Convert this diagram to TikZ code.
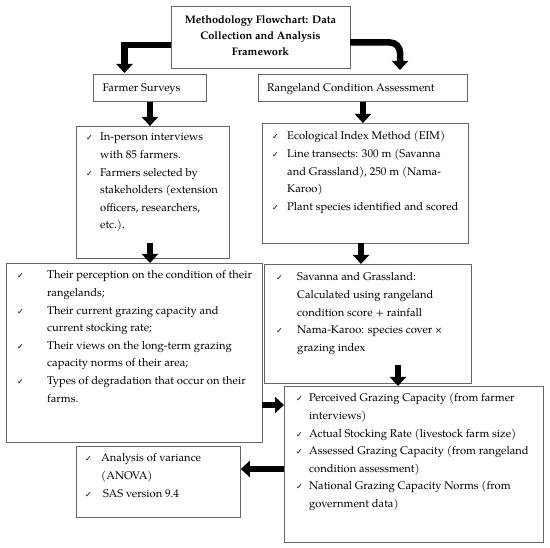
\documentclass[tikz,border=0pt]{standalone}
\usepackage{fontspec}
\setmainfont{texgyrepagella}[Extension=.otf, UprightFont=*-regular, BoldFont=*-bold, ItalicFont=*-italic, BoldItalicFont=*-bolditalic]
\newfontfamily\symf{DejaVu Sans}
\usetikzlibrary{arrows.meta,calc}
\newcommand\ck{{\symf\fontsize{8}{8}\selectfont ✓}}
\tikzset{
  box/.style={draw=black!60, line width=0.8pt, inner sep=0pt, anchor=north west},
  txt/.style={inner sep=0pt, anchor=base west, font=\fontsize{11.2}{17.6}\selectfont},
  bigarrow/.style={line width=6.5pt, line join=miter, -{Triangle[width=16pt,length=9pt]}},
}
\begin{document}
\begin{tikzpicture}[x=1pt,y=-1pt]
\fill[white] (0,0) rectangle (550,548);
\useasboundingbox (0,0) rectangle (550,548);

% boxes
\node[box, minimum width=179pt, minimum height=62pt] (tb) at (171,6) {};
\node[box, minimum width=113pt, minimum height=27pt] (fs) at (93,74) {};
\node[box, minimum width=209pt, minimum height=27pt] (ra) at (258,74) {};
\node[box, minimum width=153pt, minimum height=132pt] (b2) at (76,126) {};
\node[box, minimum width=206pt, minimum height=120pt] (b3) at (262,123) {};
\node[box, minimum width=256pt, minimum height=179pt] (b4) at (6,263) {};
\node[box, minimum width=207pt, minimum height=119pt] (b5) at (264,264) {};
\node[box, minimum width=259pt, minimum height=156pt] (b6) at (284,386) {};
\node[box, minimum width=164pt, minimum height=71pt] (b7) at (76,446) {};

% texts
\node[inner sep=0pt, align=center, font=\bfseries\fontsize{11}{16}\selectfont] (ttl) at (260.5,36) {Methodology Flowchart: Data\\Collection and Analysis\\Framework};
\node[txt] (tfs) at (102.5,92) {Farmer Surveys};
\node[txt] (tra) at (267,92) {Rangeland Condition Assessment};

\node[txt] (t2) at (86,141) {\begin{tabular}[t]{@{}p{14pt}@{}l@{}}
\ck & In-person interviews\\
    & with 85 farmers.\\
\ck & Farmers selected by\\
    & stakeholders (extension\\
    & officers, researchers,\\
    & etc.).
\end{tabular}};

\node[txt] (t3) at (272,140) {\begin{tabular}[t]{@{}p{15pt}@{}l@{}}
\ck & Ecological Index Method (EIM)\\
\ck & Line transects: 300 m (Savanna\\
    & and Grassland), 250 m (Nama-\\
    & Karoo)\\
\ck & Plant species identified and scored
\end{tabular}};

\node[txt] (t4) at (17,279) {\begin{tabular}[t]{@{}p{30pt}@{}l@{}}
\ck & Their perception on the condition of their\\
    & rangelands;\\
\ck & Their current grazing capacity and\\
    & current stocking rate;\\
\ck & Their views on the long-term grazing\\
    & capacity norms of their area;\\
\ck & Types of degradation that occur on their\\
    & farms.
\end{tabular}};

\node[txt] (t5) at (276,281) {\begin{tabular}[t]{@{}p{21pt}@{}l@{}}
\ck & Savanna and Grassland:\\
    & Calculated using rangeland\\
    & condition score + rainfall\\
\ck & Nama-Karoo: species cover ×\\
    & grazing index
\end{tabular}};

\node[txt] (t6) at (296,402) {\begin{tabular}[t]{@{}p{13pt}@{}l@{}}
\ck & Perceived Grazing Capacity (from farmer\\
    & interviews)\\
\ck & Actual Stocking Rate (livestock farm size)\\
\ck & Assessed Grazing Capacity (from rangeland\\
    & condition assessment)\\
\ck & National Grazing Capacity Norms (from\\
    & government data)
\end{tabular}};

\node[txt] (t7) at (85,462) {\begin{tabular}[t]{@{}p{16pt}@{}l@{}}
\ck & Analysis of variance\\
    & (ANOVA)\\
\ck & \hspace{2pt}SAS version 9.4
\end{tabular}};

% connector coordinates
\coordinate (l1) at (171,45);
\coordinate (l1e) at (124.5,73);
\coordinate (r1) at (350,42.5);
\coordinate (r1e) at (400,70);
\coordinate (a4) at (150,243);
\coordinate (a6) at (361,243);
\coordinate (a7) at (398,365);
\coordinate (a8) at (262,405);
\coordinate (a9) at (284,469);

% arrows
\draw[bigarrow] (l1) -| (l1e);
\draw[bigarrow, rounded corners=10pt] (r1) -| (r1e);
\draw[bigarrow] (fs.south) -- (fs.south |- b2.north);
\draw[bigarrow] (a4) -- (a4 |- b4.north);
\draw[bigarrow] (ra.south) -- (ra.south |- b3.north);
\draw[bigarrow] (a6) -- (a6 |- b5.north);
\draw[bigarrow] (a7) -- (a7 |- b6.north);
\draw[bigarrow] (a8) -- (a8 -| b6.west);
\draw[bigarrow] (a9) -- (a9 -| b7.east);
\end{tikzpicture}
\end{document}
